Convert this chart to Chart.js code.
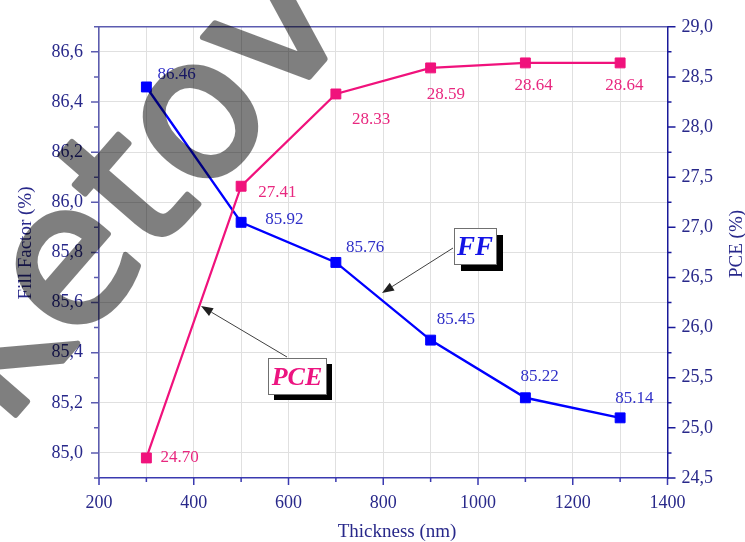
<!DOCTYPE html>
<html><head><meta charset="utf-8">
<script src="https://cdn.jsdelivr.net/npm/chart.js@4.4.1/dist/chart.umd.min.js"></script>
<style>html,body{margin:0;padding:0;background:#fff;}canvas{display:block;}</style>
</head><body>
<canvas id="c" width="745" height="542"></canvas>
<script>
// ---- data ----
const thickness = [300, 500, 700, 900, 1100, 1300];
const fillFactor = [86.46, 85.92, 85.76, 85.45, 85.22, 85.14];
const pce = [24.70, 27.41, 28.33, 28.59, 28.64, 28.64];
// ---- ticks ----
const xMajorTicks = [200, 400, 600, 800, 1000, 1200, 1400];
const xMinorTicks = [300, 500, 700, 900, 1100, 1300];
const ffMajorTicks = [85.0, 85.2, 85.4, 85.6, 85.8, 86.0, 86.2, 86.4, 86.6];
const ffMinorTicks = [84.9, 85.1, 85.3, 85.5, 85.7, 85.9, 86.1, 86.3, 86.5, 86.7];
const pceMajorTicks = [24.5, 25.0, 25.5, 26.0, 26.5, 27.0, 27.5, 28.0, 28.5, 29.0];
const pceMinorTicks = [24.75, 25.25, 25.75, 26.25, 26.75, 27.25, 27.75, 28.25, 28.75];
// ---- label placement (pixel offsets from markers) ----
const ffLabelOffsets = [[11,-13],[24,-3],[10,-15],[6,-21],[-5,-22],[-5,-20]];
const pceLabelOffsets = [[14,-1],[17,6],[16,25],[-4,26],[-11,22],[-15,22]];

const SERIF = '"Liberation Serif", "Times New Roman", serif';
const axisText = '#28288a';
const FF_BLUE = '#0000ff';
const PCE_PINK = '#f0127c';

const xAllTicks = xMajorTicks.concat(xMinorTicks).sort((a,b)=>a-b);

const decorPlugin = {
  id: 'decor',
  afterDatasetsDraw(chart) {
    const ctx = chart.ctx;
    const metaP = chart.getDatasetMeta(0), metaF = chart.getDatasetMeta(1);
    ctx.save();
    ctx.font = '17px ' + SERIF;
    ctx.textAlign = 'left';
    ctx.textBaseline = 'alphabetic';
    metaF.data.forEach((el, i) => {
      ctx.fillStyle = '#3030c8';
      ctx.fillText(fillFactor[i].toFixed(2), el.x + ffLabelOffsets[i][0], el.y + ffLabelOffsets[i][1] + 5);
    });
    metaP.data.forEach((el, i) => {
      ctx.fillStyle = '#e8287f';
      ctx.fillText(pce[i].toFixed(2), el.x + pceLabelOffsets[i][0], el.y + pceLabelOffsets[i][1] + 5);
    });
    function arrow(x1, y1, x2, y2) {
      ctx.strokeStyle = '#404040'; ctx.fillStyle = '#202020'; ctx.lineWidth = 1;
      const a = Math.atan2(y2 - y1, x2 - x1), L = 12, W = 4.5;
      const bx = x2 - L * Math.cos(a), by = y2 - L * Math.sin(a);
      ctx.beginPath(); ctx.moveTo(x1, y1); ctx.lineTo(bx, by); ctx.stroke();
      ctx.beginPath(); ctx.moveTo(x2, y2);
      ctx.lineTo(bx + W * Math.sin(a), by - W * Math.cos(a));
      ctx.lineTo(bx - W * Math.sin(a), by + W * Math.cos(a));
      ctx.closePath(); ctx.fill();
    }
    function box(x, y, w, h, sd, text, color, size) {
      ctx.fillStyle = '#000';
      ctx.fillRect(x + sd, y + sd, w, h);
      ctx.fillStyle = '#fff';
      ctx.fillRect(x, y, w, h);
      ctx.strokeStyle = '#707070'; ctx.lineWidth = 1;
      ctx.strokeRect(x + 0.5, y + 0.5, w, h);
      ctx.fillStyle = color;
      ctx.font = 'italic bold ' + size + 'px ' + SERIF;
      ctx.textAlign = 'center'; ctx.textBaseline = 'alphabetic';
      ctx.fillText(text, x + w / 2, y + h / 2 + size * 0.34);
    }
    arrow(453, 248, 382, 293);
    box(454, 228, 42, 36, 7, 'FF', '#1414e6', 27);
    arrow(287, 357, 201, 306);
    box(268, 358, 58, 36, 6, 'PCE', '#ec1480', 26);
    ctx.restore();
  },
  afterDraw(chart) {
    const ctx = chart.ctx, a = chart.chartArea;
    const sx = chart.scales.x, sy = chart.scales.y, sy1 = chart.scales.y1;
    ctx.save();
    ctx.strokeStyle = '#5c5cb0'; ctx.lineWidth = 1.5;
    ctx.beginPath(); ctx.moveTo(a.left, a.top); ctx.lineTo(a.right, a.top); ctx.stroke();
    function tk(color, list, fn) {
      ctx.strokeStyle = color; ctx.lineWidth = 1.5;
      ctx.beginPath(); list.forEach(fn); ctx.stroke();
    }
    tk('#3a3ab0', xMajorTicks, v => { const p = sx.getPixelForValue(v); ctx.moveTo(p, a.bottom); ctx.lineTo(p, a.bottom + 7); });
    tk('#3a3ab0', xMinorTicks, v => { const p = sx.getPixelForValue(v); ctx.moveTo(p, a.bottom); ctx.lineTo(p, a.bottom + 4); });
    tk('#5c5cb0', ffMajorTicks, v => { const p = sy.getPixelForValue(v); ctx.moveTo(a.left, p); ctx.lineTo(a.left - 8, p); });
    tk('#5c5cb0', ffMinorTicks, v => { const p = sy.getPixelForValue(v); ctx.moveTo(a.left, p); ctx.lineTo(a.left - 5, p); });
    tk('#1a1a9a', pceMajorTicks, v => { const p = sy1.getPixelForValue(v); ctx.moveTo(a.right, p); ctx.lineTo(a.right + 8, p); });
    tk('#1a1a9a', pceMinorTicks, v => { const p = sy1.getPixelForValue(v); ctx.moveTo(a.right, p); ctx.lineTo(a.right + 4, p); });
    ctx.fillStyle = axisText;
    ctx.font = '19px ' + SERIF;
    ctx.textAlign = 'center'; ctx.textBaseline = 'middle';
    ctx.fillText('Thickness (nm)', 397, 532);
    ctx.save(); ctx.translate(26, 243); ctx.rotate(-Math.PI / 2); ctx.fillText('Fill Factor (%)', 0, 0); ctx.restore();
    ctx.save(); ctx.translate(737, 244); ctx.rotate(-Math.PI / 2); ctx.fillText('PCE (%)', 0, 0); ctx.restore();
    // watermark
    const off = document.createElement('canvas');
    off.width = chart.width; off.height = chart.height;
    const o = off.getContext('2d');
    o.translate(4, 428); o.rotate(-49 * Math.PI / 180);
    o.font = '194px "DejaVu Sans", sans-serif';
    o.fillStyle = '#000'; o.strokeStyle = '#000'; o.lineWidth = 6; o.lineJoin = 'round';
    o.fillText('ketov', 0, 0); o.strokeText('ketov', 0, 0);
    ctx.globalAlpha = 0.5;
    ctx.drawImage(off, 0, 0);
    ctx.restore();
  }
};

new Chart(document.getElementById('c'), {
  type: 'line',
  data: {
    datasets: [
      {
        label: 'PCE', yAxisID: 'y1',
        data: thickness.map((t, i) => ({x: t, y: pce[i]})),
        borderColor: PCE_PINK, backgroundColor: PCE_PINK, borderWidth: 2.2,
        pointStyle: 'rect', pointRadius: 7, pointBorderWidth: 1, pointBackgroundColor: PCE_PINK, pointBorderColor: PCE_PINK,
        tension: 0, fill: false
      },
      {
        label: 'FF', yAxisID: 'y',
        data: thickness.map((t, i) => ({x: t, y: fillFactor[i]})),
        borderColor: FF_BLUE, backgroundColor: FF_BLUE, borderWidth: 2.4,
        pointStyle: 'rect', pointRadius: 7, pointBorderWidth: 1, pointBackgroundColor: FF_BLUE, pointBorderColor: FF_BLUE,
        tension: 0, fill: false
      }
    ]
  },
  options: {
    responsive: false, animation: false, devicePixelRatio: 1,
    layout: {padding: {top: 20, left: 0, right: 0, bottom: 0}},
    plugins: {legend: {display: false}, tooltip: {enabled: false}},
    scales: {
      x: {
        type: 'linear', position: 'bottom', min: 200, max: 1400,
        afterBuildTicks: s => { s.ticks = xAllTicks.map(v => ({value: v})); },
        afterFit: s => { s.height = 64; },
        ticks: {
          autoSkip: false, maxRotation: 0, padding: 14, color: axisText,
          font: {family: SERIF, size: 18},
          callback: v => xMajorTicks.includes(v) ? String(v) : ''
        },
        grid: {color: '#e0e0e0', lineWidth: 1, drawTicks: false},
        border: {color: '#3a3ab0', width: 1.5}
      },
      y: {
        type: 'linear', position: 'left', min: 84.9, max: 86.7,
        afterBuildTicks: s => { s.ticks = ffMajorTicks.map(v => ({value: v})); },
        afterFit: s => { s.width = 99; },
        ticks: {
          autoSkip: false, padding: 16, color: axisText,
          font: {family: SERIF, size: 18},
          callback: v => v.toFixed(1).replace('.', ',')
        },
        grid: {color: '#e0e0e0', lineWidth: 1, drawTicks: false},
        border: {color: '#5c5cb0', width: 1.5}
      },
      y1: {
        type: 'linear', position: 'right', min: 24.5, max: 29.0,
        afterBuildTicks: s => { s.ticks = pceMajorTicks.map(v => ({value: v})); },
        afterFit: s => { s.width = 77.5; },
        ticks: {
          autoSkip: false, padding: 14, color: axisText,
          font: {family: SERIF, size: 18},
          callback: v => v.toFixed(1).replace('.', ',')
        },
        grid: {drawOnChartArea: false, drawTicks: false},
        border: {color: '#1a1a9a', width: 1.5}
      }
    }
  },
  plugins: [decorPlugin]
});
</script>
</body></html>
